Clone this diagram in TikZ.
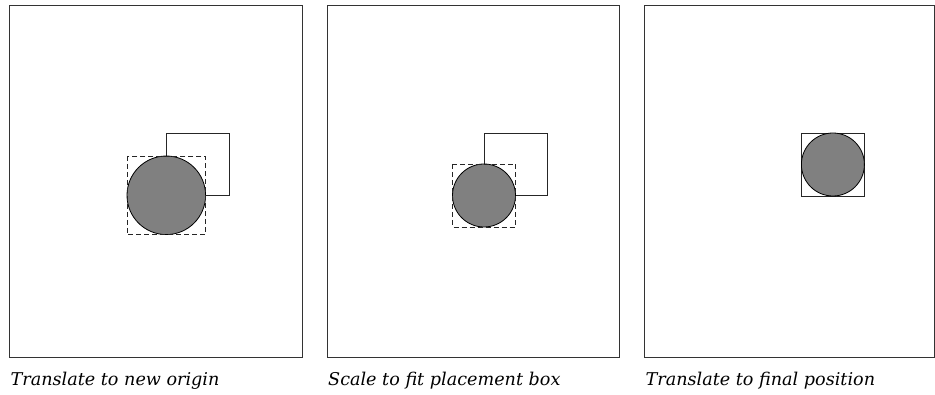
\documentclass[tikz,border=0pt]{standalone}
\usepackage{fontspec}
\setmainfont{DejaVu Serif}
\begin{document}
\begin{tikzpicture}[x=1pt,y=-1pt,
  frame/.style={draw=black!80,line width=1pt},
  place/.style={draw=black!85,line width=0.8pt},
  dashbox/.style={draw=black!85,line width=0.8pt,dash pattern=on 5pt off 3pt},
  disc/.style={draw=black,line width=0.8pt,fill=black!50},
  caption/.style={anchor=base west,inner sep=0pt,font=\fontsize{17.6}{20}\selectfont\itshape}]
\useasboundingbox (0,0) rectangle (935,395);
% Panel 1
\draw[frame] (9.5,6) rectangle (302,358);
\draw[place] (166.3,133.3) rectangle (229.3,195.3);
\draw[disc] (166.3,195.3) circle (39.3);
\draw[dashbox] (127,156) rectangle (205.6,234.6);
\node[caption] (c1) at (10.5,386) {Translate to new origin};
% Panel 2
\draw[frame] (327.3,6) rectangle (619.7,358);
\draw[place] (484,133.3) rectangle (547,195.3);
\draw[disc] (484,195.5) circle (31.5);
\draw[dashbox] (452.5,164) rectangle (515.5,227);
\node[caption] (c2) at (328,386) {Scale to fit placement box};
% Panel 3
\draw[frame] (644.3,6) -- (934.5,6) -- (934.5,358) -- (644.3,358) -- cycle;
\draw[dashbox] (801.3,133) rectangle (864.5,196);
\draw[place] (801.3,133) rectangle (864.5,196);
\draw[disc] (832.9,164.5) circle (31.5);
\node[caption] (c3) at (645.5,386) {Translate to final position};
\end{tikzpicture}
\end{document}
